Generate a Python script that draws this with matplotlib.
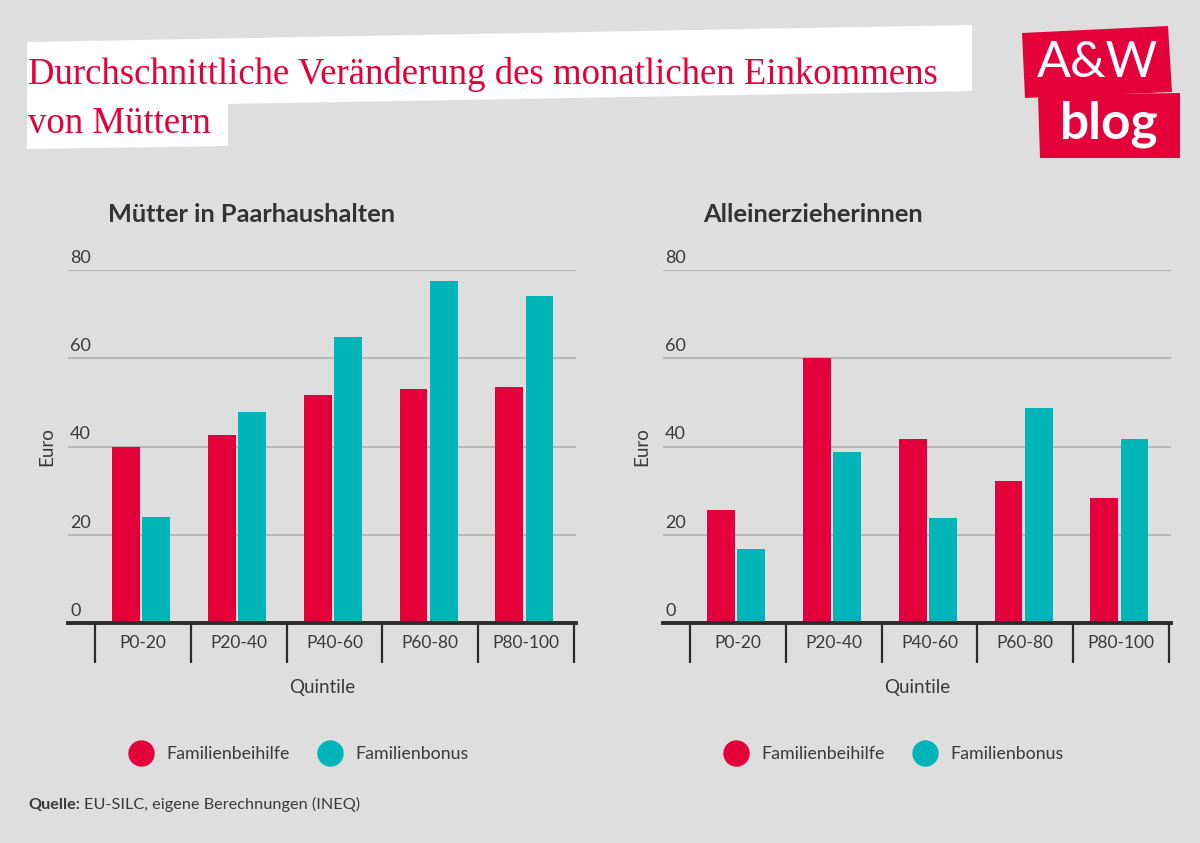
import matplotlib.pyplot as plt
import matplotlib.transforms as mtransforms
from matplotlib.patches import Polygon
from matplotlib.lines import Line2D
import numpy as np

# data
quintile = ["P0-20", "P20-40", "P40-60", "P60-80", "P80-100"]
paar_beihilfe = [40.0, 42.5, 51.6, 53.1, 53.5]
paar_bonus = [24.0, 47.8, 64.8, 77.5, 74.2]
allein_beihilfe = [25.5, 60.0, 41.7, 32.2, 28.3]
allein_bonus = [16.7, 38.8, 23.9, 48.7, 41.8]
yticks = [0, 20, 40, 60, 80]

RED = "#e4003b"
TEAL = "#00b5b8"
BG = "#dedede"
TXT = "#3a3a3a"
GRID = "#b8b8b8"

plt.rcParams['font.family'] = ['Lato', 'DejaVu Sans']

W, H = 1200, 843
fig = plt.figure(figsize=(W / 100, H / 100), dpi=100, facecolor=BG)


def px(x, y):
    # pixel coords (top-left origin) -> figure fraction
    return x / W, 1 - y / H


def draw_panel(left_px, title, red_vals, teal_vals):
    l, b = px(left_px, 623)
    r, t = px(left_px + 508, 270)
    ax = fig.add_axes([l, b, r - l, t - b])
    ax.set_facecolor(BG)
    x = np.arange(len(quintile))
    ax.bar(x - 0.175, red_vals, width=0.29, color=RED, zorder=3)
    ax.bar(x + 0.14, teal_vals, width=0.29, color=TEAL, zorder=3)
    ax.set_xlim(-0.78, 4.52)
    ax.set_ylim(0, 80)

    for s in ["top", "right", "left"]:
        ax.spines[s].set_visible(False)
    ax.spines["bottom"].set_linewidth(2.8)
    ax.spines["bottom"].set_color("#2b2b2b")
    ax.spines["bottom"].set_zorder(5)

    ax.set_yticks(yticks)
    ax.tick_params(axis="y", length=0, labelleft=False)
    ax.yaxis.grid(True, color=GRID, lw=1.5, zorder=0)

    ax.set_xticks(x)
    ax.set_xticklabels(quintile, fontsize=12.5, color=TXT)
    ax.set_xticks(np.arange(-0.5, 5, 1), minor=True)
    ax.tick_params(axis="x", which="major", length=0, pad=9)
    ax.tick_params(axis="x", which="minor", length=29, width=1.6,
                   color="#2b2b2b", direction="out")

    trans = mtransforms.blended_transform_factory(ax.transAxes, ax.transData)
    for v in yticks:
        ax.annotate(str(v), xy=(0.004, v), xycoords=trans,
                    xytext=(0, 3), textcoords="offset points",
                    ha="left", va="bottom", fontsize=13, color=TXT)

    ax.set_xlabel("Quintile", fontsize=13.5, color=TXT, labelpad=8)
    ax.set_ylabel("Euro", fontsize=13.5, color=TXT)
    ax.yaxis.set_label_coords(-0.025, 0.5)

    fx, fy = px(left_px + 40, 214)
    fig.text(fx, fy, title, fontsize=18.3, fontweight="bold", color="#333333",
             ha="left", va="center")

    handles = [Line2D([], [], marker="o", ls="", ms=18, color=RED),
               Line2D([], [], marker="o", ls="", ms=18, color=TEAL)]
    lx, ly = px(left_px + 228, 754)
    fig.legend(handles, ["Familienbeihilfe", "Familienbonus"], loc="center",
               bbox_to_anchor=(lx, ly), ncol=2, frameon=False, fontsize=12.8,
               labelcolor=TXT, handletextpad=0.4, columnspacing=1.3)
    return ax


ax1 = draw_panel(68, "Mütter in Paarhaushalten", paar_beihilfe, paar_bonus)
ax2 = draw_panel(663, "Alleinerzieherinnen", allein_beihilfe, allein_bonus)

# title box
box = [(27, 42), (972, 25), (972, 91), (228, 104), (228, 146), (27, 149)]
fig.patches.append(Polygon([px(*p) for p in box], closed=True, facecolor="white",
                           edgecolor="none", transform=fig.transFigure, zorder=0))
tx, ty = px(28, 74)
fig.text(tx, ty, "Durchschnittliche Veränderung des monatlichen Einkommens",
         fontsize=26.5, color=RED, family="Liberation Serif", ha="left", va="center")
tx, ty = px(28, 124)
fig.text(tx, ty, "von Müttern", fontsize=26.5, color=RED, family="Liberation Serif",
         ha="left", va="center")

# logo
logo1 = [(1022, 33), (1168, 26), (1172, 92), (1025, 98)]
logo2 = [(1038, 95), (1180, 93), (1180, 158), (1040, 158)]
for poly in (logo1, logo2):
    fig.patches.append(Polygon([px(*p) for p in poly], closed=True, facecolor=RED,
                               edgecolor="none", transform=fig.transFigure, zorder=0))
lx, ly = px(1097, 63)
fig.text(lx, ly, "A&W", fontsize=36, color="white", ha="center", va="center")
lx, ly = px(1109, 124)
fig.text(lx, ly, "blog", fontsize=37, color="white", fontweight="bold",
         ha="center", va="center")

# source
sx, sy = px(28, 805)
t1 = fig.text(sx, sy, "Quelle:", fontsize=11.7, fontweight="bold", color=TXT,
              ha="left", va="center")
ax1.annotate("EU-SILC, eigene Berechnungen (INEQ)", xy=(1, 0), xycoords=t1,
             xytext=(3, 0), textcoords="offset points", ha="left", va="bottom",
             fontsize=11.7, color=TXT, annotation_clip=False)

fig.savefig("out.png", dpi=100, facecolor=BG)
